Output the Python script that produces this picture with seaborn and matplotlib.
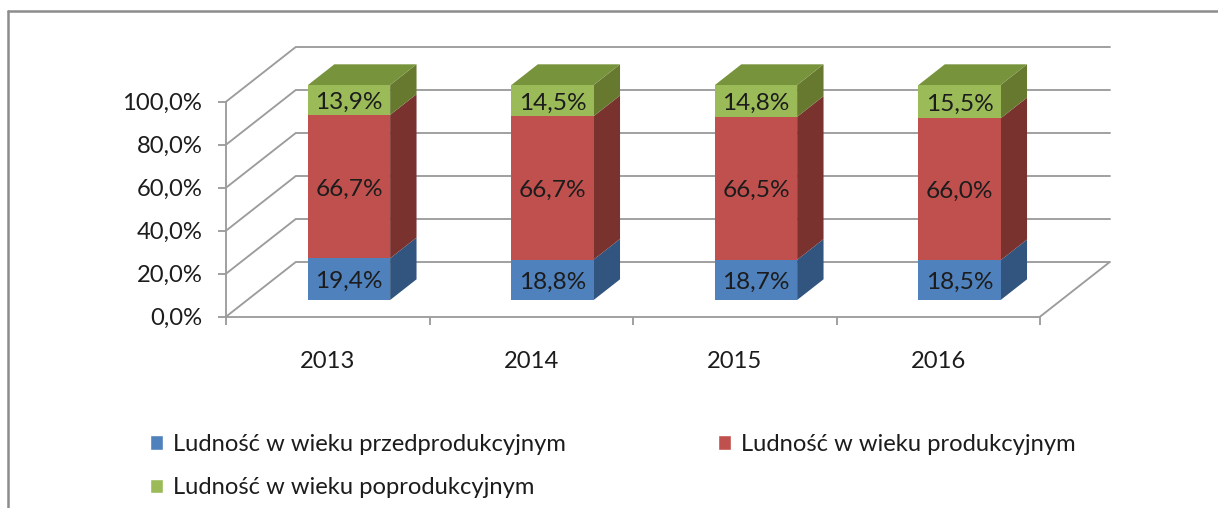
import numpy as np
import pandas as pd
import matplotlib
matplotlib.use("Agg")
import matplotlib.pyplot as plt
from matplotlib.lines import Line2D
from matplotlib.patches import Polygon, Patch
from matplotlib.transforms import Affine2D, IdentityTransform
import seaborn as sns

# ---- data ----
years = ["2013", "2014", "2015", "2016"]
pre_working = [19.4, 18.8, 18.7, 18.5]
working = [66.7, 66.7, 66.5, 66.0]
post_working = [13.9, 14.5, 14.8, 15.5]
series_names = ["Ludność w wieku przedprodukcyjnym",
                "Ludność w wieku produkcyjnym",
                "Ludność w wieku poprodukcyjnym"]
y_ticks = [0, 20, 40, 60, 80, 100]

# ---- styles ----
W, H = 1218, 508
FRONT = ["#4F81BD", "#C0504D", "#9BBB59"]
SIDE = ["#31557F", "#7A322F", "#66792F"]
TOP = "#77933C"
GRID = "#9C9C9C"
TEXT = "#1C1C1C"
FONT = "Lato"
FS = 17.1
FS_VAL = 17.6
LW = 1.35

sns.set_theme(style="white")
plt.rcParams["font.family"] = [FONT, "DejaVu Sans"]

fig = plt.figure(figsize=(W / 100, H / 100), dpi=100, facecolor="white")
L, R, T0, B0 = 226, 1040, 101.7, 316.7
ax = fig.add_axes([L / W, 1 - B0 / H, (R - L) / W, (B0 - T0) / H])
ax.patch.set_alpha(0)

# depth vector of the 3-D box, in pixels
DX, DY = 69.5, 54.5
BAR_D0, BAR_D1 = 0.306, 0.686
BAR_W = 0.404


def depth(d, shift=0.0):
    return ax.transData + Affine2D().translate(DX * d, DY * d + shift)


df = pd.DataFrame({"year": years, "pre": pre_working, "work": working, "post": post_working})
df["c1"] = df["pre"]
df["c2"] = df["pre"] + df["work"]
df["c3"] = df["c2"] + df["post"]

ax.set_xlim(-0.5, 3.5)
ax.set_ylim(0, 100)

# stacked front faces: tallest first
for col, colour in zip(["c3", "c2", "c1"], FRONT[::-1]):
    sns.barplot(data=df, x="year", y=col, order=years, color=colour, saturation=1,
                width=BAR_W, ax=ax, zorder=5, linewidth=0)
ax.set_xlim(-0.5, 3.5)
ax.set_ylim(0, 100)
for p in ax.patches:
    p.set_transform(depth(BAR_D0))
    p.set_clip_on(False)


def proj(x, y, d):
    px, py = ax.transData.transform((x, y))
    return px + DX * d, py + DY * d


def wall_line(a, b):
    xs, ys = zip(a, b)
    ax.add_line(Line2D(xs, ys, transform=IdentityTransform(), color=GRID, lw=LW,
                       clip_on=False, zorder=1, solid_capstyle="round"))


# back wall, side wall and floor edge
for v in y_ticks:
    wall_line(proj(-0.5, v, 0), proj(-0.5, v, 1))
    wall_line(proj(-0.5, v, 1), proj(3.5, v, 1))
wall_line(proj(3.5, 0, 0), proj(3.5, 0, 1))

# side and top faces of the boxes
for i in range(len(years)):
    xr = i + BAR_W / 2
    xl = i - BAR_W / 2
    base = 0
    for vals, side in zip([pre_working, working, post_working], SIDE):
        top = base + vals[i]
        ax.add_patch(Polygon([proj(xr, base, BAR_D0), proj(xr, base, BAR_D1),
                              proj(xr, top, BAR_D1), proj(xr, top, BAR_D0)],
                             closed=True, transform=IdentityTransform(), facecolor=side,
                             edgecolor="none", clip_on=False, zorder=4))
        base = top
    ax.add_patch(Polygon([proj(xl, base, BAR_D0), proj(xr, base, BAR_D0),
                          proj(xr, base, BAR_D1), proj(xl, base, BAR_D1)],
                         closed=True, transform=IdentityTransform(), facecolor=TOP,
                         edgecolor="none", clip_on=False, zorder=4))
    # value labels
    base = 0
    for vals in [pre_working, working, post_working]:
        ax.text(i, base + vals[i] / 2, f"{vals[i]:.1f}%".replace(".", ","),
                transform=depth(BAR_D0, -2.5), ha="center", va="center", fontsize=FS_VAL,
                color=TEXT, zorder=6, clip_on=False)
        base += vals[i]

# axes
sns.despine(ax=ax)
for s in ("left", "bottom"):
    ax.spines[s].set_color(GRID)
    ax.spines[s].set_linewidth(LW)
ax.set_xlabel("")
ax.set_ylabel("")
ax.set_yticks(y_ticks)
ax.set_yticklabels([f"{v:.1f}%".replace(".", ",") for v in y_ticks])
ax.set_xticks(range(len(years)))
ax.set_xticklabels(years)
ax.set_xticks(np.arange(-0.5, len(years)), minor=True)
ax.tick_params(axis="x", which="major", length=0, pad=25, labelsize=FS, labelcolor=TEXT)
ax.tick_params(axis="x", which="minor", length=6, width=LW, color=GRID, bottom=True)
ax.tick_params(axis="y", which="major", length=6, width=LW, color=GRID, left=True, pad=11,
               labelsize=FS, labelcolor=TEXT)

# legend
handles = [Patch(facecolor=FRONT[0], label=series_names[0]),
           Patch(facecolor=FRONT[2], label=series_names[2]),
           Patch(facecolor=FRONT[1], label=series_names[1])]
fig.legend(handles=handles, ncol=2, frameon=False, fontsize=FS, labelcolor=TEXT,
           loc="upper left", bbox_to_anchor=(150 / W, 1 - 434 / H), borderaxespad=0, borderpad=0,
           handlelength=0.55, handleheight=0.55, handletextpad=0.42, columnspacing=6.4, labelspacing=0.93)

# outer frame of the picture (cropped at right and bottom)
for xs, ys in [([8, 8], [508, 11]), ([8, 1218], [11, 11])]:
    fig.add_artist(Line2D([x / W for x in xs], [1 - y / H for y in ys], color="#8C8C8C", lw=1.8))

fig.savefig("out.png", dpi=100)
